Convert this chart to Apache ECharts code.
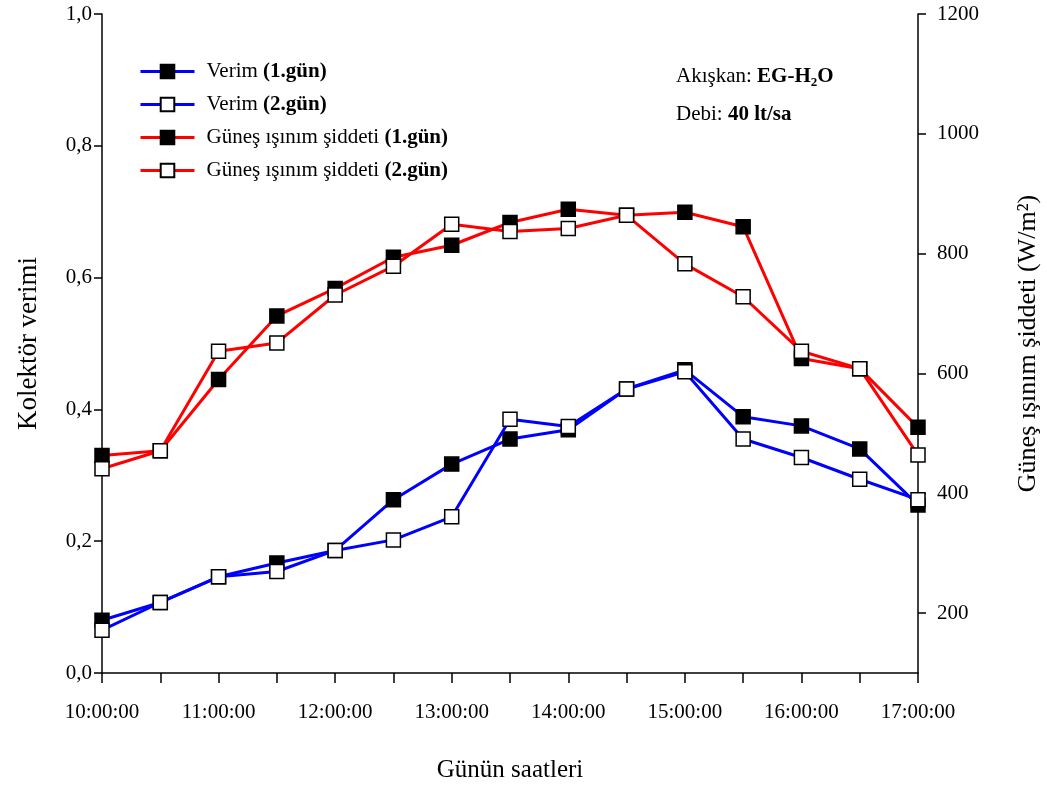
<!DOCTYPE html>
<html>
<head>
<meta charset="utf-8">
<script src="https://cdn.jsdelivr.net/npm/echarts@6/dist/echarts.min.js"></script>
<style>html,body{margin:0;padding:0;background:#fff}#c{width:1047px;height:789px}</style>
</head>
<body>
<div id="c"></div>
<script>
const times = ["10:00:00","10:30:00","11:00:00","11:30:00","12:00:00","12:30:00","13:00:00","13:30:00","14:00:00","14:30:00","15:00:00","15:30:00","16:00:00","16:30:00","17:00:00"];
const verim1 = [0.080,0.107,0.146,0.167,0.186,0.263,0.317,0.355,0.369,0.431,0.460,0.389,0.375,0.340,0.255];
const verim2 = [0.065,0.107,0.146,0.154,0.186,0.202,0.237,0.385,0.374,0.431,0.457,0.355,0.327,0.294,0.263];
const isinim1 = [463,471,590,696,742,794,814,852,874,864,869,845,625,608,510];
const isinim2 = [441,471,637,651,731,779,849,837,842,864,783,728,637,608,464];
const rightTicks = [200,400,600,800,1000,1200];
const seriesNames = ["Verim (1.gün)","Verim (2.gün)","Güneş ışınım şiddeti (1.gün)","Güneş ışınım şiddeti (2.gün)"];

const FONT = "Liberation Serif";
function mk(name, data, color, filled, yIdx){
  return {
    name, type:'line', data, yAxisIndex:yIdx,
    symbol:'rect', symbolSize:14,
    lineStyle:{color, width:3},
    itemStyle:{color: filled ? '#000' : '#fff', borderColor:'#000', borderWidth:1.5},
    emphasis:{disabled:true}, animation:false, z: filled?3:4
  };
}
const chart = echarts.init(document.getElementById('c'));
chart.setOption({
  animation:false,
  textStyle:{fontFamily:FONT},
  grid:{left:102, right:129, top:14, bottom:116, containLabel:false, outerBoundsMode:'none'},
  legend:{
    orient:'vertical', left:134, top:56, itemWidth:54, itemHeight:17, itemGap:12,
    data:seriesNames,
    lineStyle:{width:3},
    formatter:function(n){
      const i = n.indexOf('(');
      return '{a|'+n.slice(0,i)+'}{b|'+n.slice(i)+'}';
    },
    textStyle:{fontFamily:FONT, fontSize:21, color:'#000', lineHeight:20, padding:[0,0,0,7],
      rich:{a:{fontFamily:FONT,fontSize:21,color:'#000'}, b:{fontFamily:FONT,fontSize:21,fontWeight:'bold',color:'#000'}}}
  },
  xAxis:{
    type:'category', data:times, boundaryGap:false,
    name:'Günün saatleri', nameLocation:'middle', nameGap:85,
    nameTextStyle:{fontFamily:FONT, fontSize:25, color:'#000'},
    axisLine:{lineStyle:{color:'#000', width:1.5}},
    axisTick:{show:true, interval:0, length:10, inside:false, lineStyle:{color:'#000', width:1.5}},
    axisLabel:{interval:1, fontFamily:FONT, fontSize:21, color:'#000', margin:29},
    splitLine:{show:false}
  },
  yAxis:[
    {type:'value', min:0, max:1, interval:0.2, position:'left',
     name:'Kolektör verimi', nameLocation:'middle', nameGap:60,
     nameTextStyle:{fontFamily:FONT, fontSize:27, color:'#000'},
     axisLine:{show:true, lineStyle:{color:'#000', width:1.5}},
     axisTick:{show:true, length:8, lineStyle:{color:'#000', width:1.5}},
     axisLabel:{fontFamily:FONT, fontSize:21, color:'#000', margin:10,
       formatter:v=>v.toFixed(1).replace('.',',')},
     splitLine:{show:false}},
    {type:'value', min:100, max:1200, position:'right',
     name:'Güneş ışınım şiddeti (W/m²)', nameLocation:'middle', nameGap:97, nameRotate:90,
     nameTextStyle:{fontFamily:FONT, fontSize:26, color:'#000'},
     axisLine:{show:true, lineStyle:{color:'#000', width:1.5}},
     axisTick:{show:true, length:8, customValues:rightTicks, lineStyle:{color:'#000', width:1.5}},
     axisLabel:{fontFamily:FONT, fontSize:21, color:'#000', margin:19, customValues:rightTicks,
       formatter:v=>String(v)},
     splitLine:{show:false}}
  ],
  graphic:[
    {type:'text', left:676, top:66, style:{
      text:'{a|Akışkan: }{b|EG-H}{s|2}{b|O}',
      rich:{a:{fontFamily:FONT,fontSize:21,fill:'#000',lineHeight:26},
            b:{fontFamily:FONT,fontSize:21,fontWeight:'bold',fill:'#000',lineHeight:26},
            s:{fontFamily:FONT,fontSize:13,fontWeight:'bold',fill:'#000',lineHeight:26,verticalAlign:'bottom',padding:[10,0,0,0]}}
    }},
    {type:'text', left:676, top:104, style:{
      text:'{a|Debi: }{b|40 lt/sa}',
      rich:{a:{fontFamily:FONT,fontSize:21,fill:'#000',lineHeight:26},
            b:{fontFamily:FONT,fontSize:21,fontWeight:'bold',fill:'#000',lineHeight:26}}
    }}
  ],
  series:[
    mk(seriesNames[0], verim1, '#0000ff', true, 0),
    mk(seriesNames[1], verim2, '#0000ff', false, 0),
    mk(seriesNames[2], isinim1, '#ff0000', true, 1),
    mk(seriesNames[3], isinim2, '#ff0000', false, 1)
  ]
});
</script>
</body>
</html>
